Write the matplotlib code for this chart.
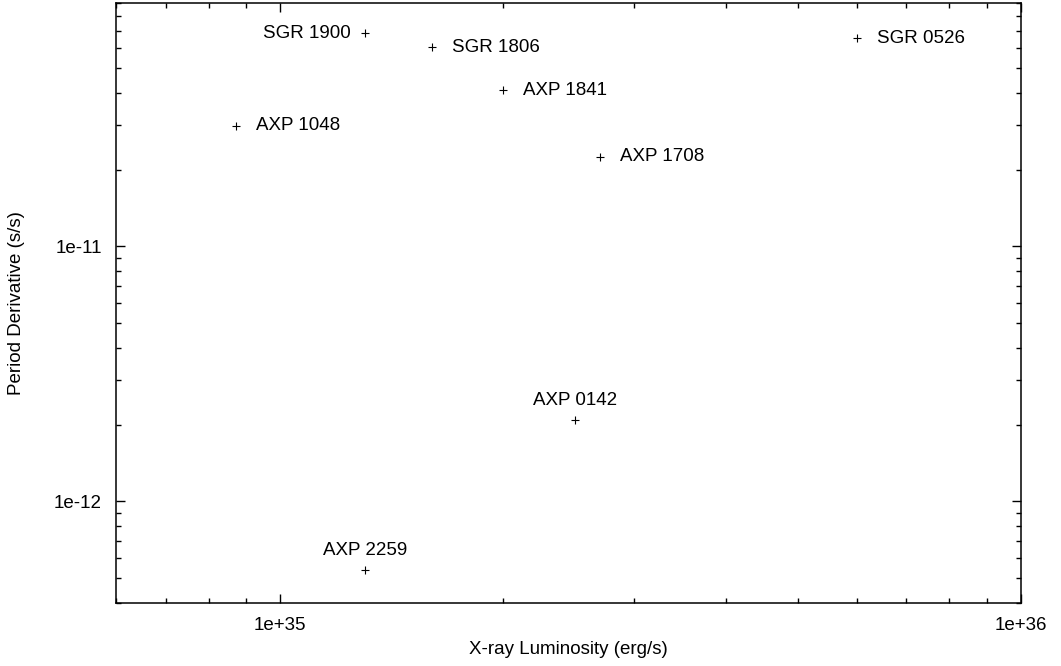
import matplotlib
matplotlib.use("Agg")
import matplotlib.pyplot as plt
from matplotlib.ticker import LogLocator, NullFormatter, FixedLocator

plt.rcParams['font.family'] = ['Liberation Sans', 'DejaVu Sans']

# magnetar sample: X-ray luminosity vs period derivative
names = ["SGR 1900", "SGR 1806", "AXP 1841", "AXP 1048", "AXP 1708",
         "SGR 0526", "AXP 0142", "AXP 2259"]
lx = [1.30e35, 1.60e35, 2.0e35, 8.7e34, 2.7e35, 6.0e35, 2.5e35, 1.30e35]
pdot = [6.85e-11, 6.04e-11, 4.1e-11, 2.97e-11, 2.25e-11, 6.55e-11, 2.09e-12, 5.4e-13]
# label placement per source: left, right or above the point
placement = ["left", "right", "right", "right", "right", "right", "above", "above"]

FS = 13.5

fig = plt.figure(figsize=(10.61, 6.66), dpi=100)
ax = fig.add_axes([116 / 1061, 1 - 603 / 666, (1021 - 116) / 1061, (603 - 3) / 666])

ax.plot(lx, pdot, linestyle="none", marker="+", color="black", ms=6, mew=0.8)

for name, x, y, where in zip(names, lx, pdot, placement):
    if where == "left":
        ax.annotate(name, (x, y), xytext=(-14, 0), textcoords="offset pixels",
                    ha="right", va="center", fontsize=FS)
    elif where == "right":
        ax.annotate(name, (x, y), xytext=(20, 0), textcoords="offset pixels",
                    ha="left", va="center", fontsize=FS)
    else:
        ax.annotate(name, (x, y), xytext=(0, 11), textcoords="offset pixels",
                    ha="center", va="bottom", fontsize=FS)

ax.set_xscale("log")
ax.set_yscale("log")
ax.set_xlim(6e34, 1e36)
ax.set_ylim(4e-13, 9e-11)

ax.xaxis.set_major_locator(FixedLocator([1e35, 1e36]))
ax.yaxis.set_major_locator(FixedLocator([1e-12, 1e-11]))
ax.set_xticklabels(["1e+35", "1e+36"])
ax.set_yticklabels(["1e-12", "1e-11"])
ax.xaxis.set_minor_locator(LogLocator(base=10, subs=range(2, 10)))
ax.yaxis.set_minor_locator(LogLocator(base=10, subs=range(2, 10)))
ax.xaxis.set_minor_formatter(NullFormatter())
ax.yaxis.set_minor_formatter(NullFormatter())

ax.tick_params(which="both", direction="in", top=True, right=True,
               width=1.0, labelsize=FS, color="black")
ax.tick_params(which="major", length=6.5, pad=10)
ax.tick_params(which="minor", length=3.5)
for s in ax.spines.values():
    s.set_linewidth(1.1)

ax.set_xlabel("X-ray Luminosity (erg/s)", fontsize=FS)
ax.set_ylabel("Period Derivative (s/s)", fontsize=FS)
ax.xaxis.set_label_coords(0.5, -0.063)
ax.yaxis.set_label_coords(-0.100, 0.5)

fig.savefig("out.png", dpi=100)
